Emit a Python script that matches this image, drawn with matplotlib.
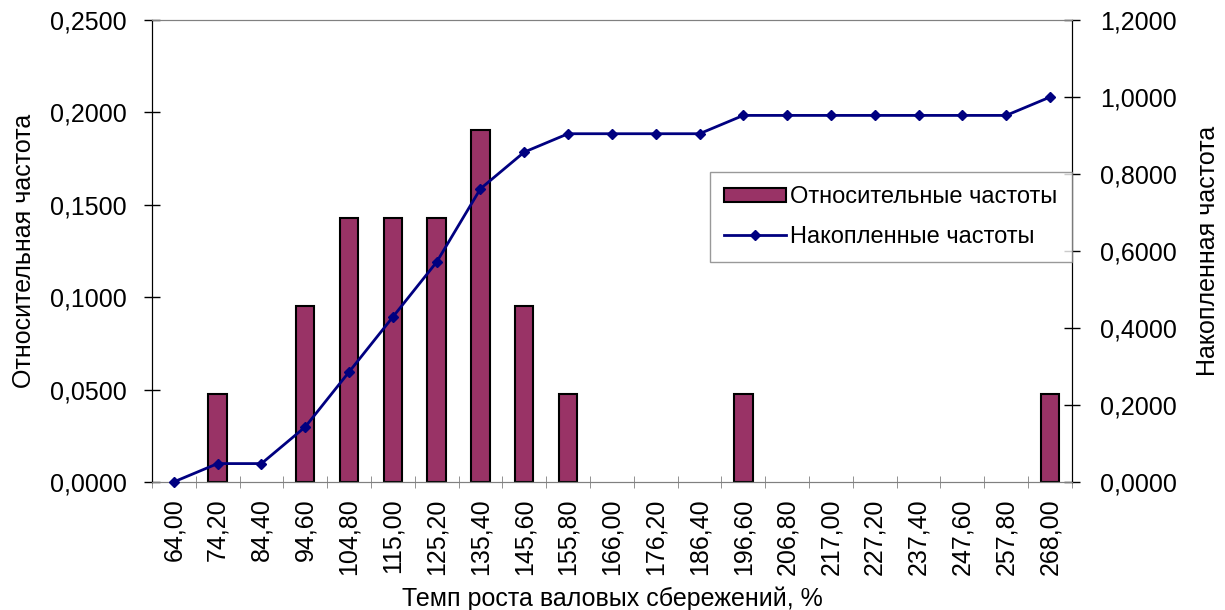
import numpy as np
import matplotlib
matplotlib.use("Agg")
import matplotlib.pyplot as plt
from matplotlib.patches import Patch
from matplotlib.ticker import FuncFormatter, MultipleLocator

plt.rcParams['font.family'] = ['Liberation Sans', 'DejaVu Sans']

# categories (temp of growth, %)
categories = ["64,00", "74,20", "84,40", "94,60", "104,80", "115,00", "125,20",
              "135,40", "145,60", "155,80", "166,00", "176,20", "186,40", "196,60",
              "206,80", "217,00", "227,20", "237,40", "247,60", "257,80", "268,00"]
# relative frequencies
rel_freq = [0.0, 0.0476, 0.0, 0.0952, 0.1429, 0.1429, 0.1429,
            0.1905, 0.0952, 0.0476, 0.0, 0.0, 0.0, 0.0476,
            0.0, 0.0, 0.0, 0.0, 0.0, 0.0, 0.0476]
# cumulative frequencies
cum_freq = [0.0, 0.0476, 0.0476, 0.1429, 0.2857, 0.4286, 0.5714,
            0.7619, 0.8571, 0.9048, 0.9048, 0.9048, 0.9048, 0.9524,
            0.9524, 0.9524, 0.9524, 0.9524, 0.9524, 0.9524, 1.0]

FS = 18
BAR_COLOR = "#993366"
comma = lambda v, p: ("%.4f" % v).replace(".", ",")

fig = plt.figure(figsize=(12.25, 6.1), dpi=100)
ax = fig.add_axes([0.124, 0.210, 0.751, 0.757])
ax2 = ax.twinx()

x = np.arange(len(categories))
bars = ax.bar(x, rel_freq, width=0.42, color=BAR_COLOR, edgecolor="black",
              linewidth=1.5)
# empty classes are not drawn
for b, v in zip(bars, rel_freq):
    if v == 0:
        b.set_visible(False)
line, = ax2.plot(x, cum_freq, color="#000080", lw=2, marker="D", ms=5.5,
                 clip_on=False, zorder=5)

ax.set_xlim(-0.5, len(categories) - 0.5)
ax.set_ylim(0, 0.25)
ax2.set_ylim(0, 1.2)
ax.yaxis.set_major_locator(MultipleLocator(0.05))
ax2.yaxis.set_major_locator(MultipleLocator(0.2))
ax.yaxis.set_major_formatter(FuncFormatter(comma))
ax2.yaxis.set_major_formatter(FuncFormatter(comma))

# category labels in the middle, tick marks on the boundaries
ax.set_xticks(x)
ax.set_xticklabels(categories, rotation=90, fontsize=FS)
ax.tick_params(axis="x", length=0, pad=12)
ax.set_xticks(np.arange(len(categories) + 1) - 0.5, minor=True)
ax.tick_params(axis="x", which="minor", length=8, direction="inout", color="#808080")

ax.tick_params(axis="y", labelsize=FS, length=12, direction="inout", width=1, pad=12)
ax2.tick_params(axis="y", labelsize=FS, length=12, direction="inout", width=1, pad=14)

for a in (ax, ax2):
    a.spines["top"].set_color("#808080")
    a.spines["bottom"].set_color("#808080")
    a.spines["left"].set_color("black")
    a.spines["right"].set_color("black")

ax.set_xlabel("Темп роста валовых сбережений, %", fontsize=FS, labelpad=8)
ax.set_ylabel("Относительная частота", fontsize=FS, labelpad=10)
ax2.set_ylabel("Накопленная частота", fontsize=FS, labelpad=14)

bar_handle = Patch(facecolor=BAR_COLOR, edgecolor="black", linewidth=1.5)
leg = ax2.legend([bar_handle, line], ["Относительные частоты", "Накопленные частоты"],
                 loc="upper right", bbox_to_anchor=(1.0, 0.671), borderaxespad=0,
                 fontsize=17, frameon=True, fancybox=False, edgecolor="#808080",
                 borderpad=0.6, handlelength=2.6, handleheight=0.55,
                 handletextpad=0.2, labelspacing=0.75)
leg.get_frame().set_linewidth(1)

fig.savefig("out.png", dpi=100)
